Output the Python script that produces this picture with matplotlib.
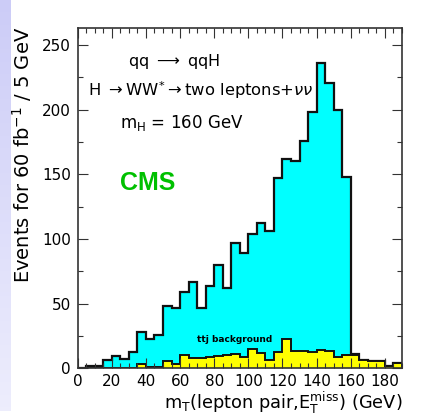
import numpy as np
import matplotlib
matplotlib.use("Agg")
from matplotlib import pyplot as plt
from matplotlib.ticker import MultipleLocator

# 5 GeV bins from 0 to 190 GeV
bin_edges = np.arange(0, 195, 5)

# signal + ttj background (total outline), events per bin
total = [0, 1.5, 2, 6.5, 9.5, 7.5, 12.5, 28, 23, 26,
         48, 46.5, 59, 66.5, 46.5, 64, 79.5, 62, 96.5, 89.5,
         103.5, 112.5, 106, 147, 161.5, 160.5, 176, 198, 236, 220.5,
         199.5, 147.5, 11, 6.5, 5.5, 5.5, 2, 4]

# ttj background alone
ttj = [0, 0, 0, 0.5, 0, 0, 0.5, 3, 1, 1,
       6, 3.5, 10.5, 8.2, 8, 9, 9.3, 10, 11.3, 9,
       15, 12, 6.8, 12.5, 23, 13.5, 13, 12.5, 14, 13,
       8.5, 10.5, 10.5, 6.5, 5.5, 5.5, 2, 4]

fig = plt.figure(figsize=(4.29, 4.19), dpi=100)

# lavender slide strip on the left edge
strip = fig.add_axes([0, 0.02, 0.024, 0.98])
grad = np.linspace(0, 1, 100).reshape(-1, 1)
top_c = np.array([0.80, 0.80, 0.97])
bot_c = np.array([0.93, 0.93, 0.99])
img = top_c + (bot_c - top_c) * grad[..., None]
strip.imshow(img, aspect="auto")
strip.axis("off")

ax = fig.add_axes([0.181, 0.121, 0.756, 0.812])

ax.stairs(total, bin_edges, fill=True, color="#00ffff")
ax.stairs(total, bin_edges, color="#111111", lw=1.6)
ax.stairs(ttj, bin_edges, fill=True, color="#ffff00")
ax.stairs(ttj, bin_edges, color="#111111", lw=1.4)

ax.set_xlim(0, 190)
ax.set_ylim(0, 263)

ax.xaxis.set_major_locator(MultipleLocator(20))
ax.xaxis.set_minor_locator(MultipleLocator(5))
ax.yaxis.set_major_locator(MultipleLocator(50))
ax.yaxis.set_minor_locator(MultipleLocator(25))
ax.tick_params(which="both", direction="in", top=True, right=True,
               labelsize=11, color="#333333")
ax.tick_params(which="major", length=7, width=0.8)
ax.tick_params(which="minor", length=3.5, width=0.8)
ax.tick_params(axis="x", pad=4)
ax.tick_params(axis="y", pad=5)
for s in ax.spines.values():
    s.set_linewidth(1.2)
    s.set_color("#333333")

ax.set_ylabel(r"Events for 60 fb$^{-1}$ / 5 GeV", fontsize=14)
ax.yaxis.set_label_coords(-0.135, 0.627)
ax.set_xlabel(r"m$_\mathregular{T}$(lepton pair,E$_\mathregular{T}^\mathregular{miss}$) (GeV)",
              fontsize=12.8, loc="right", labelpad=0.5)

ax.text(29.5, 237, r"qq $\longrightarrow$ qqH", fontsize=11.5, va="center")
ax.text(6, 215, r"H $\rightarrow$WW$^{*}$$\rightarrow$two leptons+$\nu\nu$",
        fontsize=11.8, va="center")
ax.text(24.8, 190, r"m$_\mathregular{H}$ = 160 GeV", fontsize=12, va="center")
ax.text(24.8, 143, "CMS", fontsize=18, fontweight="bold", color="#00c000",
        family="Liberation Sans", va="center")
ax.text(70, 22, "ttj background", fontsize=6.5, fontweight="bold", va="center")

fig.savefig("out.png", dpi=100)
